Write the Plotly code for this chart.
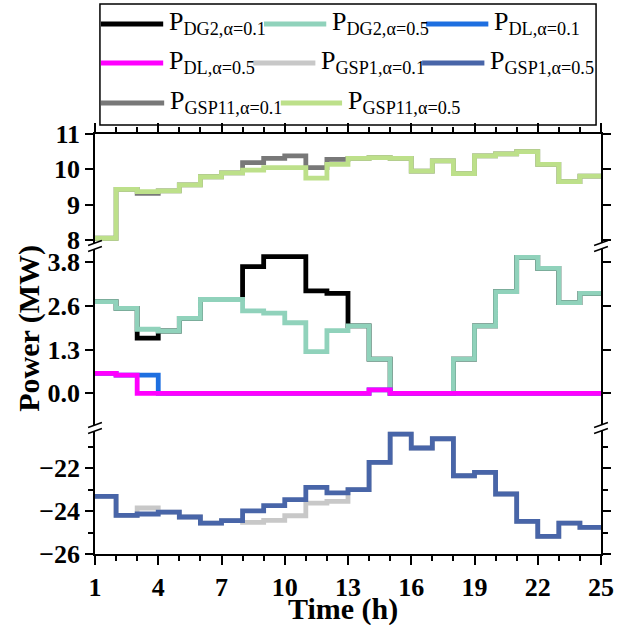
import plotly.graph_objects as go

# ---- data: hourly values, hour h holds from h to h+1 ----
hours = list(range(1, 26))

p_dg2_a01 = [2.68, 2.48, 1.61, 1.82, 2.19, 2.74, 2.74, 3.70, 3.99, 3.99, 2.99, 2.92,
             1.97, 1.00, 0.00, 0.00, 0.00, 1.00, 1.97, 2.97, 3.97, 3.65, 2.65, 2.92]
p_dg2_a05 = [2.68, 2.48, 1.87, 1.82, 2.19, 2.74, 2.74, 2.41, 2.34, 2.06, 1.22, 1.83,
             1.97, 1.00, 0.00, 0.00, 0.00, 1.00, 1.97, 2.97, 3.97, 3.65, 2.65, 2.92]
p_dl_a01 = [0.58, 0.53, 0.53, 0.00, 0.00, 0.00, 0.00, 0.00, 0.00, 0.00, 0.00, 0.00,
            0.00, 0.10, 0.00, 0.00, 0.00, 0.00, 0.00, 0.00, 0.00, 0.00, 0.00, 0.00]
p_dl_a05 = [0.58, 0.53, 0.00, 0.00, 0.00, 0.00, 0.00, 0.00, 0.00, 0.00, 0.00, 0.00,
            0.00, 0.10, 0.00, 0.00, 0.00, 0.00, 0.00, 0.00, 0.00, 0.00, 0.00, 0.00]
p_gsp1_a01 = [-23.32, -24.20, -23.86, -24.05, -24.28, -24.56, -24.45, -24.53, -24.44, -24.22,
              -23.63, -23.55, -23.01, -21.74, -20.42, -21.07, -20.64, -22.36, -22.20, -23.21,
              -24.48, -25.18, -24.56, -24.76]
p_gsp1_a05 = [-23.32, -24.20, -24.14, -24.05, -24.28, -24.56, -24.45, -23.99, -23.75, -23.47,
              -22.90, -23.16, -23.01, -21.74, -20.42, -21.07, -20.64, -22.36, -22.20, -23.21,
              -24.48, -25.18, -24.56, -24.76]
p_gsp11_a01 = [8.05, 9.43, 9.32, 9.39, 9.56, 9.79, 9.90, 10.19, 10.31, 10.38, 10.05, 10.28,
               10.31, 10.33, 10.31, 9.95, 10.24, 9.88, 10.38, 10.44, 10.50, 10.14, 9.65, 9.81]
p_gsp11_a05 = [8.05, 9.43, 9.37, 9.39, 9.56, 9.79, 9.90, 9.98, 10.05, 10.05, 9.75, 10.14,
               10.31, 10.33, 10.31, 9.95, 10.24, 9.88, 10.38, 10.44, 10.50, 10.14, 9.65, 9.81]

x_ticks = [1, 4, 7, 10, 13, 16, 19, 22, 25]
top_ticks = [8, 9, 10, 11]
mid_ticks = [0, 1.275, 2.55, 3.825]
mid_labels = ["0.0", "1.3", "2.6", "3.8"]
bot_ticks = [-22, -24, -26]

# name, values, colour, panel (1 = top, 2 = middle, 3 = bottom)
series = [
    ("P<sub>DG2,α=0.1</sub>", p_dg2_a01, "#000000", 2),
    ("P<sub>DG2,α=0.5</sub>", p_dg2_a05, "#90D2BB", 2),
    ("P<sub>DL,α=0.1</sub>", p_dl_a01, "#1E6FE0", 2),
    ("P<sub>DL,α=0.5</sub>", p_dl_a05, "#FF00FF", 2),
    ("P<sub>GSP1,α=0.1</sub>", p_gsp1_a01, "#C8C8C8", 3),
    ("P<sub>GSP1,α=0.5</sub>", p_gsp1_a05, "#4865A8", 3),
    ("P<sub>GSP11,α=0.1</sub>", p_gsp11_a01, "#787878", 1),
    ("P<sub>GSP11,α=0.5</sub>", p_gsp11_a05, "#BDE08A", 1),
]

# ---- figure geometry (pixels) ----
W, H = 626, 625
ML, MR, MT, MB = 95, 19, 134, 71
PW, PH = W - ML - MR, H - MT - MB


def px(x):
    return (x - ML) / PW


def py(y):
    return (H - MB - y) / PH


# panel boundaries in pixels (with a small gap at each axis break)
top_lo, mid_hi, mid_lo, bot_hi = 243, 249, 425, 431

LINE_W = 4.8
FONT = "Liberation Serif"

fig = go.Figure()
axis_of = {1: ("x2", "y"), 2: ("x", "y2"), 3: ("x", "y3")}
for name, vals, color, panel in series:
    xa, ya = axis_of[panel]
    fig.add_trace(go.Scatter(
        x=hours, y=vals + [vals[-1]], mode="lines", name=name,
        line=dict(color=color, width=LINE_W, shape="hv"),
        xaxis=xa, yaxis=ya, showlegend=False,
    ))

tick_font = dict(family=FONT, size=26, color="black", weight="bold")
common_y = dict(showline=True, linecolor="black", linewidth=1.5, mirror="ticks",
                ticks="outside", ticklen=8, tickwidth=1.5, tickcolor="black",
                showgrid=False, zeroline=False, tickfont=tick_font)
common_x = dict(range=[1, 25], showline=True, linecolor="black", linewidth=1.5,
                ticks="outside", ticklen=9, tickwidth=1.5, tickcolor="black",
                showgrid=False, zeroline=False, tickvals=x_ticks,
                minor=dict(dtick=1, tick0=1, ticks="outside", ticklen=5,
                           tickwidth=1.5, tickcolor="black"))

fig.update_layout(
    width=W, height=H, autosize=False,
    margin=dict(l=ML, r=MR, t=MT, b=MB, pad=0),
    paper_bgcolor="white", plot_bgcolor="white",
    xaxis=dict(**common_x, anchor="y3", domain=[0, 1], tickfont=tick_font),
    xaxis2=dict(**common_x, anchor="y", side="top", showticklabels=False),
    yaxis=dict(**common_y, domain=[py(top_lo), 1], range=[7.915, 11],
               tickvals=top_ticks, anchor="x2"),
    yaxis2=dict(**common_y, domain=[py(mid_lo), py(mid_hi)],
                range=[(393.3 - mid_lo) / 34.24, (393.3 - mid_hi) / 34.24],
                tickvals=mid_ticks, ticktext=mid_labels, anchor="x"),
    yaxis3=dict(**common_y, domain=[0, py(bot_hi)], range=[-26, -26 + (554 - bot_hi) / 21.5],
                tickvals=bot_ticks,
                minor=dict(tickvals=[-21, -23, -25], ticks="outside", ticklen=5,
                           tickwidth=1.5, tickcolor="black"),
                anchor="x"),
)

shapes = []
annotations = []

# break marks on both vertical axes
for (ya, yb) in [(top_lo, mid_hi), (mid_lo, bot_hi)]:
    for xc in (ML, W - MR):
        for yc in (ya, yb):
            shapes.append(dict(type="line", xref="paper", yref="paper",
                               x0=px(xc - 7), y0=py(yc + 2.5), x1=px(xc + 7), y1=py(yc - 2.5),
                               line=dict(color="black", width=1.5)))

# legend box
shapes.append(dict(type="rect", xref="paper", yref="paper",
                   x0=px(100), y0=py(125), x1=px(602), y1=py(4),
                   line=dict(color="black", width=1.5), fillcolor="rgba(0,0,0,0)"))

# legend rows: (line start, line end, row y) per entry, in series order
legend_pos = [
    (101, 164, 24), (266, 329, 24), (430, 493, 24),
    (101, 164, 63), (255, 318, 63), (426, 489, 63),
    (101, 165, 103), (283, 345, 103),
]
for (name, vals, color, panel), (x0, x1, yy) in zip(series, legend_pos):
    shapes.append(dict(type="line", xref="paper", yref="paper",
                       x0=px(x0), y0=py(yy), x1=px(x1), y1=py(yy),
                       line=dict(color=color, width=LINE_W)))
    annotations.append(dict(text=name, xref="paper", yref="paper",
                            x=px(x1 + 4), y=py(yy - 1), xanchor="left", yanchor="middle",
                            showarrow=False,
                            font=dict(family=FONT, size=26, color="black")))

# axis titles
annotations.append(dict(text="Power (MW)", xref="paper", yref="paper",
                        x=px(28), y=py(328), xanchor="center", yanchor="middle",
                        textangle=-90, showarrow=False,
                        font=dict(family=FONT, size=30, color="black", weight="bold")))
annotations.append(dict(text="Time (h)", xref="paper", yref="paper",
                        x=px(346), y=py(609), xanchor="center", yanchor="middle",
                        showarrow=False,
                        font=dict(family=FONT, size=30, color="black", weight="bold")))

fig.update_layout(shapes=shapes, annotations=annotations)

fig.write_html("out.html")
